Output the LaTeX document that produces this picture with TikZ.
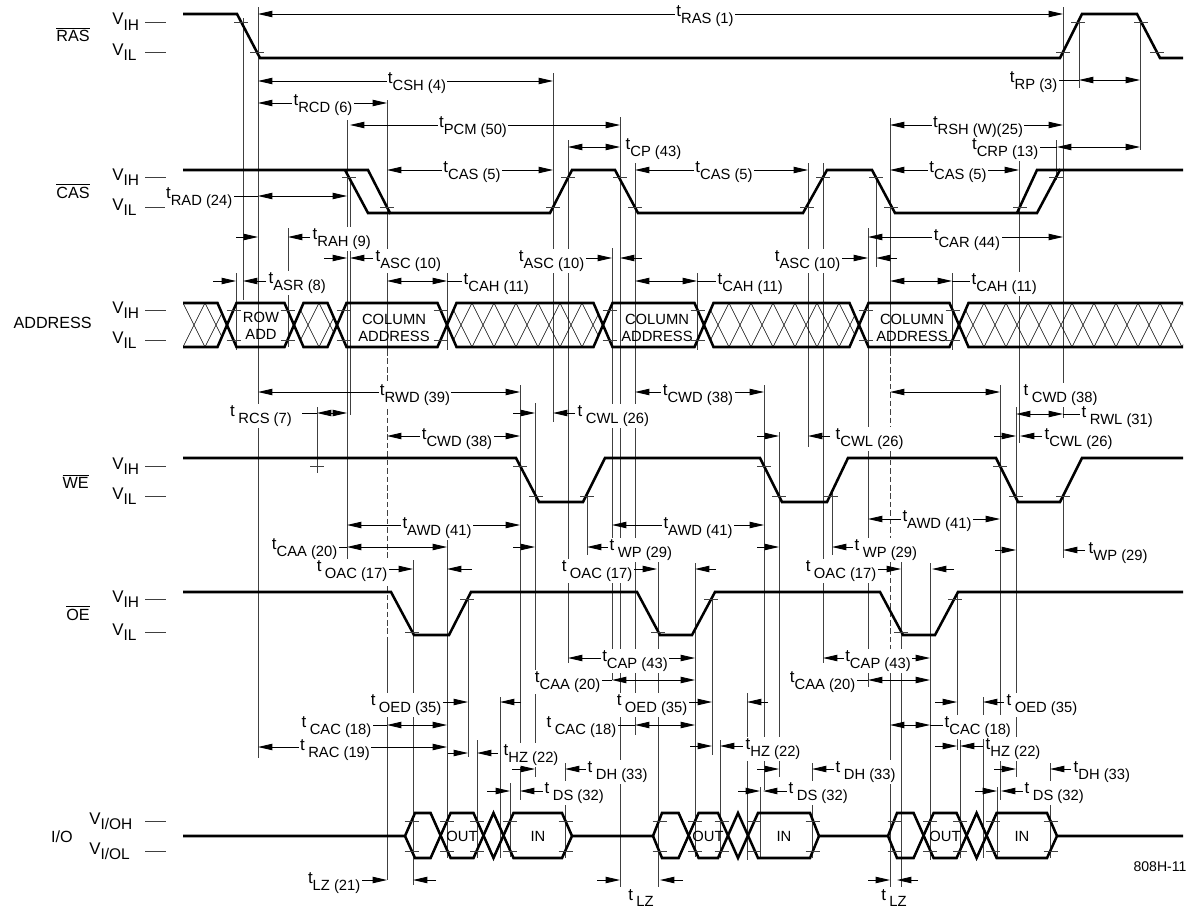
\documentclass[tikz,border=0pt]{standalone}
\usepackage{fontspec}
\setmainfont{Liberation Sans}
\usetikzlibrary{arrows.meta}

\newcommand{\tsub}[1]{t\raisebox{-4.5pt}{\fontsize{10.5}{12}\selectfont #1}}
\newcommand{\tsp}[1]{t\hspace{2.5pt}\raisebox{-4.5pt}{\fontsize{10.5}{12}\selectfont #1}}
\newcommand{\vsub}[1]{V\raisebox{-4pt}{\fontsize{11}{12}\selectfont #1}}
\newcommand{\ovl}[1]{$\overline{\mbox{#1}}$}
\newcommand{\tk}[2]{\draw[tick] (#1-7,#2) -- (#1+7,#2);}
\newcommand{\hatchzone}[2]{%
  \begin{scope}
    \clip #1;
    \foreach \h in {0,...,13}{
      \pgfmathsetmacro{\hx}{#2+22*\h}
      \draw[hatchline] (\hx,303) -- (\hx+22,347) (\hx,347) -- (\hx+22,303);
    }
  \end{scope}}

\tikzset{
  sig/.style={line width=1.8pt},
  vref/.style={line width=0.6pt, black!75},
  tick/.style={line width=0.6pt, black!75},
  hatchline/.style={line width=0.45pt},
  arr/.style={line width=0.6pt, -{Triangle[length=3.6mm, width=1.6mm]}},
  dimline/.style={line width=0.6pt, {Triangle[length=3.6mm, width=1.6mm]}-{Triangle[length=3.6mm, width=1.6mm]}},
  lead/.style={line width=0.6pt},
  tl/.style={fill=white, inner sep=1pt, font=\fontsize{12}{14}\selectfont},
  sname/.style={anchor=base east, inner sep=0pt, font=\fontsize{11.5}{14}\selectfont},
  lvl/.style={anchor=base west, inner sep=0pt, font=\fontsize{12}{14}\selectfont},
  cell/.style={align=center, inner sep=0pt, font=\fontsize{10.5}{12}\selectfont},
}

\begin{document}
\begin{tikzpicture}[x=0.025cm, y=-0.025cm]
  \useasboundingbox (0,0) rectangle (1192,914);

  % reference lines
  \foreach \x/\ya/\yb in {243/18/300, 236/273/350, 258/7/758, 288/228/347, 317/407/473,
      347/120/560, 350/177/415, 413/560/885, 447/273/350, 447/540/858, 468/595/757,
      477/740/858, 500/697/858, 510/783/857, 520/385/800, 535/403/777, 553/73/422,
      565/763/858, 568/140/663, 587/493/555, 612/248/680, 620/117/887, 635/163/735,
      658/560/887, 695/563/857, 697/273/350, 712/595/755, 720/740/858, 747/693/860,
      760/787/858, 764/385/790, 779/432/777, 808/163/447, 812/763/858, 823/163/663,
      832/493/555, 868/228/687, 876/177/267, 901/560/887, 930/563/860, 952/273/350,
      957/595/750, 960/740/858, 983/697/858, 997/787/858, 1000/385/800, 1016/407/777,
      1019/150/443, 1050/763/858, 1056/140/180, 1063/7/418, 1063/497/558,
      1079/22/88, 1140/22/150}
    \draw[vref] (\x,\ya) -- (\x,\yb);
  \draw[vref] (387,100) -- (387,350) (387,640) -- (387,880);
  \draw[vref, dash pattern=on 4pt off 2pt] (387,350) -- (387,640);
  \draw[vref] (890,118) -- (890,350) (890,660) -- (890,887);
  \draw[vref, dash pattern=on 4pt off 2pt] (890,350) -- (890,660);

  % level marks
  \foreach \y in {22,52,177,207,310,340,466,496,599,632,821,851}
    \draw[tick] (145,\y) -- (166,\y);

  % RAS timings
  \draw[dimline] (258,14) -- (1063,14);
  \node[tl] (tras) at (705,16) {\tsub{RAS (1)}};
  \draw[dimline] (258,81) -- (553,81);
  \node[tl] (tcsh) at (417,83) {\tsub{CSH (4)}};
  \draw[dimline] (258,103) -- (387,103);
  \node[tl] (trcd) at (323,105) {\tsub{RCD (6)}};
  \draw[dimline] (350,125) -- (620,125);
  \node[tl] (tpcm) at (473,127) {\tsub{PCM (50)}};
  \draw[dimline] (568,147) -- (620,147);
  \node[tl, anchor=west] (tcp) at (624,149) {\tsub{CP (43)}};
  \draw[lead] (1059,80) -- (1079,80);
  \draw[dimline] (1079,80) -- (1140,80);
  \node[tl, anchor=east] (trp) at (1059,82) {\tsub{RP (3)}};
  \draw[dimline] (890,125) -- (1063,125);
  \node[tl] (trsh) at (978,127) {\tsub{RSH (W)(25)}};
  \draw[lead] (1040,147) -- (1057,147);
  \draw[dimline] (1057,147) -- (1140,147);
  \node[tl, anchor=east] (tcrp) at (1040,149) {\tsub{CRP (13)}};

  % CAS timings
  \draw[dimline] (387,170) -- (553,170);
  \node[tl] (tcas1) at (472,172) {\tsub{CAS (5)}};
  \draw[dimline] (635,170) -- (808,170);
  \node[tl] (tcas2) at (724,172) {\tsub{CAS (5)}};
  \draw[dimline] (890,170) -- (1019,170);
  \node[tl] (tcas3) at (958,172) {\tsub{CAS (5)}};
  \node[tl, anchor=east] (trad) at (234,198) {\tsub{RAD (24)}};
  \draw[lead] (234,196) -- (258,196);
  \draw[dimline] (258,196) -- (347,196);
  \draw[arr] (236,237) -- (258,237);
  \draw[arr] (310,237) -- (288,237);
  \node[tl, anchor=west] (trah) at (311,239) {\tsub{RAH (9)}};
  \draw[arr] (213,281) -- (236,281);
  \draw[arr] (266,281) -- (243,281);
  \node[tl, anchor=west] (tasr) at (267,283) {\tsub{ASR (8)}};
  \draw[arr] (324,258) -- (347,258);
  \draw[arr] (373,258) -- (350,258);
  \node[tl, anchor=west] (tasc1) at (374,261) {\tsub{ASC (10)}};
  \draw[dimline] (387,281) -- (447,281);
  \draw[lead] (447,281) -- (462,281);
  \node[tl, anchor=west] (tcah1) at (462,284) {\tsub{CAH (11)}};
  \node[tl, anchor=east] (tasc2) at (586,261) {\tsub{ASC (10)}};
  \draw[arr] (586,258) -- (612,258);
  \draw[arr] (642,258) -- (620,258);
  \draw[dimline] (635,281) -- (697,281);
  \draw[lead] (697,281) -- (716,281);
  \node[tl, anchor=west] (tcah2) at (716,284) {\tsub{CAH (11)}};
  \node[tl, anchor=east] (tasc3) at (842,261) {\tsub{ASC (10)}};
  \draw[arr] (842,258) -- (868,258);
  \draw[arr] (897,258) -- (876,258);
  \draw[dimline] (868,237) -- (1063,237);
  \node[tl] (tcar) at (967,240) {\tsub{CAR (44)}};
  \draw[dimline] (890,281) -- (952,281);
  \draw[lead] (952,281) -- (970,281);
  \node[tl, anchor=west] (tcah3) at (970,284) {\tsub{CAH (11)}};

  % WE timings
  \draw[dimline] (258,392) -- (520,392);
  \node[tl] (trwd) at (415,395) {\tsub{RWD (39)}};
  \node[tl] (trcs) at (261,416) {\tsp{RCS (7)}};
  \draw[lead] (302,413) -- (317,413);
  \draw[dimline] (317,413) -- (347,413);
  \draw[dimline] (387,436) -- (520,436);
  \node[tl] (tcwd1) at (457,439) {\tsub{CWD (38)}};
  \draw[arr] (513,413) -- (535,413);
  \draw[arr] (575,413) -- (553,413);
  \node[tl, anchor=west] (tcwl1) at (576,416) {\tsp{CWL (26)}};
  \draw[dimline] (635,392) -- (764,392);
  \node[tl] (tcwd2) at (698,395) {\tsub{CWD (38)}};
  \draw[arr] (757,436) -- (779,436);
  \draw[arr] (830,436) -- (808,436);
  \node[tl, anchor=west] (tcwl2) at (834,439) {\tsub{CWL (26)}};
  \draw[dimline] (890,392) -- (1000,392);
  \node[tl, anchor=west] (tcwd3) at (1022,395) {\tsp{CWD (38)}};
  \draw[dimline] (1016,414) -- (1063,414);
  \draw[lead] (1063,414) -- (1080,414);
  \node[tl, anchor=west] (trwl) at (1080,417) {\tsp{RWL (31)}};
  \draw[arr] (994,436) -- (1016,436);
  \draw[arr] (1042,436) -- (1020,436);
  \node[tl, anchor=west] (tcwl3) at (1043,439) {\tsub{CWL (26)}};

  % WE / OE timings
  \draw[dimline] (347,525) -- (520,525);
  \node[tl] (tawd1) at (437,528) {\tsub{AWD (41)}};
  \node[tl, anchor=east] (tcaa1) at (339,549) {\tsub{CAA (20)}};
  \draw[lead] (339,547) -- (347,547);
  \draw[dimline] (347,547) -- (447,547);
  \draw[arr] (513,547) -- (535,547);
  \node[tl, anchor=east] (toac1) at (389,571) {\tsp{OAC (17)}};
  \draw[arr] (389,569) -- (413,569);
  \draw[arr] (472,569) -- (447,569);
  \draw[dimline] (612,525) -- (764,525);
  \node[tl] (tawd2) at (698,528) {\tsub{AWD (41)}};
  \draw[arr] (608,547) -- (587,547);
  \node[tl, anchor=west] (twp1) at (608,550) {\tsp{WP (29)}};
  \draw[arr] (757,547) -- (779,547);
  \node[tl, anchor=east] (toac2) at (634,571) {\tsp{OAC (17)}};
  \draw[arr] (634,569) -- (657,569);
  \draw[arr] (716,569) -- (695,569);
  \draw[dimline] (868,519) -- (1000,519);
  \node[tl] (tawd3) at (937,521) {\tsub{AWD (41)}};
  \draw[arr] (853,547) -- (832,547);
  \node[tl, anchor=west] (twp2) at (853,550) {\tsp{WP (29)}};
  \draw[arr] (995,550) -- (1016,550);
  \draw[arr] (1085,550) -- (1063,550);
  \node[tl, anchor=west] (twp3) at (1087,553) {\tsub{WP (29)}};
  \node[tl, anchor=east] (toac3) at (878,571) {\tsp{OAC (17)}};
  \draw[arr] (878,569) -- (901,569);
  \draw[arr] (954,569) -- (932,569);

  % OE / IO timings, first cycle
  \node[tl, anchor=east] (toed1) at (443,705) {\tsp{OED (35)}};
  \draw[arr] (443,702) -- (468,702);
  \draw[arr] (521,702) -- (500,702);
  \node[tl, anchor=east] (tcac1) at (373,727) {\tsp{CAC (18)}};
  \draw[lead] (373,725) -- (387,725);
  \draw[dimline] (387,725) -- (447,725);
  \draw[dimline] (258,747) -- (447,747);
  \node[tl] (trac) at (335,750) {\tsp{RAC (19)}};
  \draw[arr] (448,753) -- (468,753);
  \draw[arr] (498,753) -- (477,753);
  \node[tl, anchor=west] (thz1) at (502,755) {\tsub{HZ (22)}};
  \draw[arr] (512,769) -- (535,769);
  \draw[arr] (586,769) -- (565,769);
  \node[tl, anchor=west] (tdh1) at (586,772) {\tsp{DH (33)}};
  \draw[arr] (487,791) -- (510,791);
  \draw[arr] (543,791) -- (520,791);
  \node[tl, anchor=west] (tds1) at (543,793) {\tsp{DS (32)}};
  \node[tl, anchor=east] (tlz1) at (362,883) {\tsub{LZ (21)}};
  \draw[arr] (362,880) -- (387,880);
  \draw[arr] (436,880) -- (413,880);

  % second cycle
  \draw[dimline] (568,658) -- (695,658);
  \node[tl] (tcap1) at (635,661) {\tsub{CAP (43)}};
  \node[tl, anchor=east] (tcaa2) at (602,682) {\tsub{CAA (20)}};
  \draw[lead] (602,680) -- (612,680);
  \draw[dimline] (612,680) -- (695,680);
  \node[tl, anchor=east] (toed2) at (689,705) {\tsp{OED (35)}};
  \draw[arr] (689,702) -- (712,702);
  \draw[arr] (768,702) -- (747,702);
  \node[tl, anchor=east] (tcac2) at (618,727) {\tsp{CAC (18)}};
  \draw[lead] (618,725) -- (635,725);
  \draw[dimline] (635,725) -- (695,725);
  \draw[arr] (690,746) -- (712,746);
  \draw[arr] (743,746) -- (720,746);
  \node[tl, anchor=west] (thz2) at (744,749) {\tsub{HZ (22)}};
  \draw[arr] (757,769) -- (779,769);
  \draw[arr] (834,769) -- (812,769);
  \node[tl, anchor=west] (tdh2) at (834,772) {\tsp{DH (33)}};
  \draw[arr] (738,791) -- (760,791);
  \draw[arr] (787,791) -- (763,791);
  \node[tl, anchor=west] (tds2) at (787,793) {\tsp{DS (32)}};
  \draw[arr] (597,880) -- (620,880);
  \draw[arr] (683,880) -- (660,880);
  \node[tl] (tlz2) at (641,898) {\tsp{LZ}};

  % third cycle
  \draw[dimline] (823,658) -- (930,658);
  \node[tl] (tcap2) at (878,661) {\tsub{CAP (43)}};
  \node[tl, anchor=east] (tcaa3) at (857,682) {\tsub{CAA (20)}};
  \draw[lead] (857,680) -- (868,680);
  \draw[dimline] (868,680) -- (930,680);
  \draw[arr] (935,702) -- (957,702);
  \draw[arr] (1004,702) -- (983,702);
  \node[tl, anchor=west] (toed3) at (1005,705) {\tsp{OED (35)}};
  \draw[dimline] (890,725) -- (930,725);
  \draw[lead] (930,725) -- (943,725);
  \node[tl, anchor=west] (tcac3) at (943,727) {\tsub{CAC (18)}};
  \draw[arr] (935,746) -- (957,746);
  \draw[arr] (983,746) -- (960,746);
  \node[tl, anchor=west] (thz3) at (984,749) {\tsub{HZ (22)}};
  \draw[arr] (994,769) -- (1016,769);
  \draw[arr] (1071,769) -- (1050,769);
  \node[tl, anchor=west] (tdh3) at (1072,772) {\tsub{DH (33)}};
  \draw[arr] (975,791) -- (997,791);
  \draw[arr] (1023,791) -- (1001,791);
  \node[tl, anchor=west] (tds3) at (1023,793) {\tsp{DS (32)}};
  \draw[arr] (868,880) -- (890,880);
  \draw[arr] (918,880) -- (897,880);
  \node[tl] (tlz3) at (894,898) {\tsp{LZ}};
  \node[font=\fontsize{10}{12}\selectfont] (fig) at (1160,867) {808H-11};

  % signal names and levels
  \node[sname] (ras) at (90,42) {\ovl{RAS}};
  \node[sname] (cas) at (90,198) {\ovl{CAS}};
  \node[sname] (addr) at (92,328) {ADDRESS};
  \node[sname] (we) at (89,488) {\ovl{WE}};
  \node[sname] (oe) at (90,620) {\ovl{OE}};
  \node[sname] (io) at (73,842) {I/O};
  \foreach \y/\s in {25/IH, 55/IL, 180/IH, 210/IL, 313/IH, 343/IL, 469/IH, 499/IL, 602/IH, 635/IL}
    {\node[lvl] at (112,\y) {\vsub{\s}};}
  \node[lvl] at (89,824) {\vsub{I/OH}};
  \node[lvl] at (89,854) {\vsub{I/OL}};

  % address bus
  \hatchzone{(183,303) -- (217.5,303) -- (227,325) -- (217.5,347) -- (183,347) -- cycle}{161}
  \hatchzone{(294,325) -- (303.5,303) -- (327.5,303) -- (337,325) -- (327.5,347) -- (303.5,347) -- cycle}{297}
  \hatchzone{(447,325) -- (456.5,303) -- (593.5,303) -- (603,325) -- (593.5,347) -- (456.5,347) -- cycle}{450}
  \hatchzone{(704,325) -- (713.5,303) -- (849.5,303) -- (859,325) -- (849.5,347) -- (713.5,347) -- cycle}{707}
  \hatchzone{(959,325) -- (968.5,303) -- (1183,303) -- (1183,347) -- (968.5,347) -- cycle}{962}
  \draw[sig] (183,303) -- (217.5,303) -- (236.5,347) -- (284.5,347) -- (303.5,303) -- (327.5,303)
    -- (346.5,347) -- (437.5,347) -- (456.5,303) -- (593.5,303) -- (612.5,347) -- (694.5,347)
    -- (713.5,303) -- (849.5,303) -- (868.5,347) -- (949.5,347) -- (968.5,303) -- (1183,303);
  \draw[sig] (183,347) -- (217.5,347) -- (236.5,303) -- (284.5,303) -- (303.5,347) -- (327.5,347)
    -- (346.5,303) -- (437.5,303) -- (456.5,347) -- (593.5,347) -- (612.5,303) -- (694.5,303)
    -- (713.5,347) -- (849.5,347) -- (868.5,303) -- (949.5,303) -- (968.5,347) -- (1183,347);
  \node[cell] (rowadd) at (261,326) {ROW\\ADD};
  \node[cell] (col1) at (394,328) {COLUMN\\ADDRESS};
  \node[cell] (col2) at (657,328) {COLUMN\\ADDRESS};
  \node[cell] (col3) at (912,328) {COLUMN\\ADDRESS};

  % RAS, CAS, WE, OE
  \draw[sig] (183,14) -- (237,14) -- (260,58) -- (1060,58) -- (1082,14) -- (1137,14) -- (1160,58) -- (1183,58);
  \draw[sig] (183,170) -- (368,170) -- (390,213) -- (550,213) -- (572,170) -- (615,170) -- (638,213)
    -- (803,213) -- (827,170) -- (872,170) -- (895,213) -- (1037,213) -- (1060,170) -- (1183,170);
  \draw[sig] (345,170) -- (368,213) -- (390,213);
  \draw[sig] (1017,213) -- (1037,170) -- (1060,170);
  \draw[sig] (183,458) -- (516,458) -- (539,502) -- (583,502) -- (605,458) -- (760,458) -- (782,502)
    -- (827,502) -- (848,458) -- (996,458) -- (1018,502) -- (1060,502) -- (1082,458) -- (1183,458);
  \draw[sig] (183,592) -- (391,592) -- (414,635) -- (449,635) -- (471,592) -- (637,592) -- (660,635)
    -- (692,635) -- (715,592) -- (880,592) -- (903,635) -- (935,635) -- (958,592) -- (1183,592);

  % I/O bus
  \draw[sig] (183,836) -- (405,836) -- (415,813) -- (430.6,813) -- (450.6,858) -- (473.5,858)
    -- (493.5,813) -- (513.5,858) -- (562,858) -- (572,836) -- (653,836) -- (662,813) -- (678.6,813)
    -- (698.6,858) -- (718,858) -- (738,813) -- (758,858) -- (810,858) -- (819,836) -- (888,836)
    -- (897,813) -- (913.6,813) -- (933.6,858) -- (956.6,858) -- (976.6,813) -- (996.6,858)
    -- (1047,858) -- (1057,836) -- (1183,836);
  \draw[sig] (405,836) -- (415,858) -- (430.6,858) -- (450.6,813) -- (473.5,813) -- (493.5,858)
    -- (513.5,813) -- (562,813) -- (572,836);
  \draw[sig] (653,836) -- (662,858) -- (678.6,858) -- (698.6,813) -- (718,813) -- (738,858)
    -- (758,813) -- (810,813) -- (819,836);
  \draw[sig] (888,836) -- (897,858) -- (913.6,858) -- (933.6,813) -- (956.6,813) -- (976.6,858)
    -- (996.6,813) -- (1047,813) -- (1057,836);
  \node[cell] (out1) at (462,836) {OUT};
  \node[cell] (in1) at (538,836) {IN};
  \node[cell] (out2) at (708,836) {OUT};
  \node[cell] (in2) at (784,836) {IN};
  \node[cell] (out3) at (945,836) {OUT};
  \node[cell] (in3) at (1022,836) {IN};

  % crossing marks
  \foreach \x/\y in {241/22, 257/52, 1063/52, 1078/22, 1141/22, 1157/52,
      349/177, 387/207, 553/207, 568/177, 620/177, 635/207, 807/207, 823/177,
      876/177, 891/207, 1020/207, 1056/177,
      233.5/310, 233.5/340, 287.5/310, 287.5/340, 343.5/310, 343.5/340, 440.5/310, 440.5/340,
      609.5/310, 609.5/340, 697.5/310, 697.5/340, 865.5/310, 865.5/340, 952.5/310, 952.5/340,
      317/466, 520/466, 536/496, 587/496, 764/466, 779/496, 831/496, 1000/466, 1016/496, 1063/496,
      412/632, 467/599, 658/632, 711/599, 901/632, 955/599}
    {\tk{\x}{\y}}
  \foreach \x in {411.5, 447, 477, 510, 565.5, 659.5, 695, 721.6, 754.4, 812.5,
      894.5, 930, 960.2, 993, 1050.5}
    {\tk{\x}{821} \tk{\x}{851}}
\end{tikzpicture}
\end{document}
